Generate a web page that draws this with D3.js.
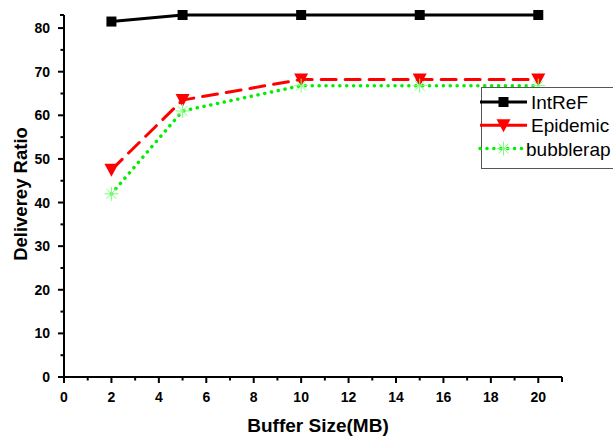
<!DOCTYPE html>
<html>
<head>
<meta charset="utf-8">
<script src="https://cdn.jsdelivr.net/npm/d3@7"></script>
<style>
  html, body { margin: 0; padding: 0; background: #fff; }
  svg { display: block; }
  text { font-family: Arial, "Liberation Sans", sans-serif; }
</style>
</head>
<body>
<svg id="chart" width="613" height="443"></svg>
<script>
// Buffer sizes (MB) and delivery ratios per routing protocol
const bufferSizes = [2, 5, 10, 15, 20];
const intRefValues = [81.5, 83, 83, 83, 83];
const epidemicValues = [47.5, 63.5, 68.2, 68.2, 68.2];
const bubbleRapValues = [42, 61, 66.8, 66.8, 66.8];
const seriesNames = ["IntReF", "Epidemic", "bubblerap"];
const xTicks = [0, 2, 4, 6, 8, 10, 12, 14, 16, 18, 20];
const yTicks = [0, 10, 20, 30, 40, 50, 60, 70, 80];

const svg = d3.select("#chart");

const x = d3.scaleLinear().domain([0, 21]).range([64, 562]);
const y = d3.scaleLinear().domain([0, 83]).range([377, 15]);

// Axes with major and minor ticks
const xMinor = d3.range(1, 21, 2);
const yMinor = d3.range(5, 85, 10).filter(v => v <= 83);

const axisG = svg.append("g");

// x axis
const gx = axisG.append("g").attr("transform", `translate(0,${y(0)})`);
gx.append("line").attr("x1", x(0)).attr("x2", x(21)).attr("stroke", "#000").attr("stroke-width", 2);
gx.selectAll("line.maj").data(xTicks.concat([21])).join("line")
  .attr("x1", d => x(d)).attr("x2", d => x(d)).attr("y1", 0).attr("y2", d => d === 21 ? 5 : 6)
  .attr("stroke", "#000").attr("stroke-width", 2);
gx.selectAll("line.min").data(xMinor).join("line")
  .attr("x1", d => x(d)).attr("x2", d => x(d)).attr("y1", 0).attr("y2", 3.5)
  .attr("stroke", "#000").attr("stroke-width", 2);
gx.selectAll("text").data(xTicks).join("text")
  .attr("x", d => x(d)).attr("y", 24.5).attr("text-anchor", "middle")
  .attr("font-size", 14).attr("font-weight", "bold").text(d => d);

// y axis
const gy = axisG.append("g").attr("transform", `translate(${x(0)},0)`);
gy.append("line").attr("y1", y(0)).attr("y2", y(83)).attr("stroke", "#000").attr("stroke-width", 2);
gy.selectAll("line.maj").data(yTicks.concat([83])).join("line")
  .attr("y1", d => y(d)).attr("y2", d => y(d)).attr("x1", 0).attr("x2", d => d === 83 ? -4 : -6)
  .attr("stroke", "#000").attr("stroke-width", 2);
gy.selectAll("line.min").data(yMinor).join("line")
  .attr("y1", d => y(d)).attr("y2", d => y(d)).attr("x1", 0).attr("x2", -3.5)
  .attr("stroke", "#000").attr("stroke-width", 2);
gy.selectAll("text").data(yTicks).join("text")
  .attr("x", -14).attr("y", d => y(d) + 5).attr("text-anchor", "end")
  .attr("font-size", 14).attr("font-weight", "bold").text(d => d);

// Axis titles
svg.append("text").attr("x", 318).attr("y", 432).attr("text-anchor", "middle")
  .attr("font-size", 19).attr("font-weight", "bold").text("Buffer Size(MB)");
svg.append("text").attr("transform", "translate(27,194) rotate(-90)").attr("text-anchor", "middle")
  .attr("font-size", 18.5).attr("font-weight", "bold").text("Deliverey Ratio");

// Series styling
const series = [
  { name: seriesNames[0], values: intRefValues, color: "#000000", dash: null, cap: "butt", marker: "square" },
  { name: seriesNames[1], values: epidemicValues, color: "#ff0000", dash: "15,9", cap: "round", marker: "tri" },
  { name: seriesNames[2], values: bubbleRapValues, color: "#00ee00", dash: "0.1,6.8", cap: "round", marker: "star" }
];

const line = d3.line().x(d => x(d[0])).y(d => y(d[1]));

function drawMarker(g, type, cx, cy) {
  if (type === "square") {
    g.append("rect").attr("x", cx - 5).attr("y", cy - 5).attr("width", 10).attr("height", 10).attr("fill", "#000");
  } else if (type === "tri") {
    g.append("path").attr("d", `M${cx - 7},${cy - 6}L${cx + 7},${cy - 6}L${cx},${cy + 7}Z`).attr("fill", "#ff0000");
  } else {
    const r = 7, rd = 5;
    g.append("path")
      .attr("d", `M${cx - r},${cy}L${cx + r},${cy}M${cx},${cy - r}L${cx},${cy + r}M${cx - rd},${cy - rd}L${cx + rd},${cy + rd}M${cx - rd},${cy + rd}L${cx + rd},${cy - rd}`)
      .attr("stroke", "#7dff7d").attr("stroke-width", 1).attr("fill", "none");
  }
}

const plot = svg.append("g");
series.forEach(s => {
  const pts = bufferSizes.map((b, i) => [b, s.values[i]]);
  plot.append("path").datum(pts).attr("d", line)
    .attr("fill", "none").attr("stroke", s.color).attr("stroke-width", s.marker === "star" ? 3.5 : 3)
    .attr("stroke-dasharray", s.dash).attr("stroke-linecap", s.cap);
  pts.forEach(p => drawMarker(plot, s.marker, x(p[0]), y(p[1])));
});

// Legend
const leg = svg.append("g");
leg.append("rect").attr("x", 481.5).attr("y", 87.5).attr("width", 140).attr("height", 81)
  .attr("fill", "#fff").attr("stroke", "#555").attr("stroke-width", 1);
series.forEach((s, i) => {
  const ly = 102 + i * 23.3;
  leg.append("line").attr("x1", 480).attr("x2", 527).attr("y1", ly).attr("y2", ly)
    .attr("stroke", s.color).attr("stroke-width", s.marker === "star" ? 3.5 : 3)
    .attr("stroke-dasharray", s.marker === "star" ? "0.1,6.8" : null)
    .attr("stroke-linecap", s.marker === "star" ? "round" : "butt");
  drawMarker(leg, s.marker, 503.5, ly);
  leg.append("text").attr("x", s.marker === "star" ? 526 : 531).attr("y", ly + 7)
    .attr("font-size", 19).text(s.name);
});
</script>
</body>
</html>
